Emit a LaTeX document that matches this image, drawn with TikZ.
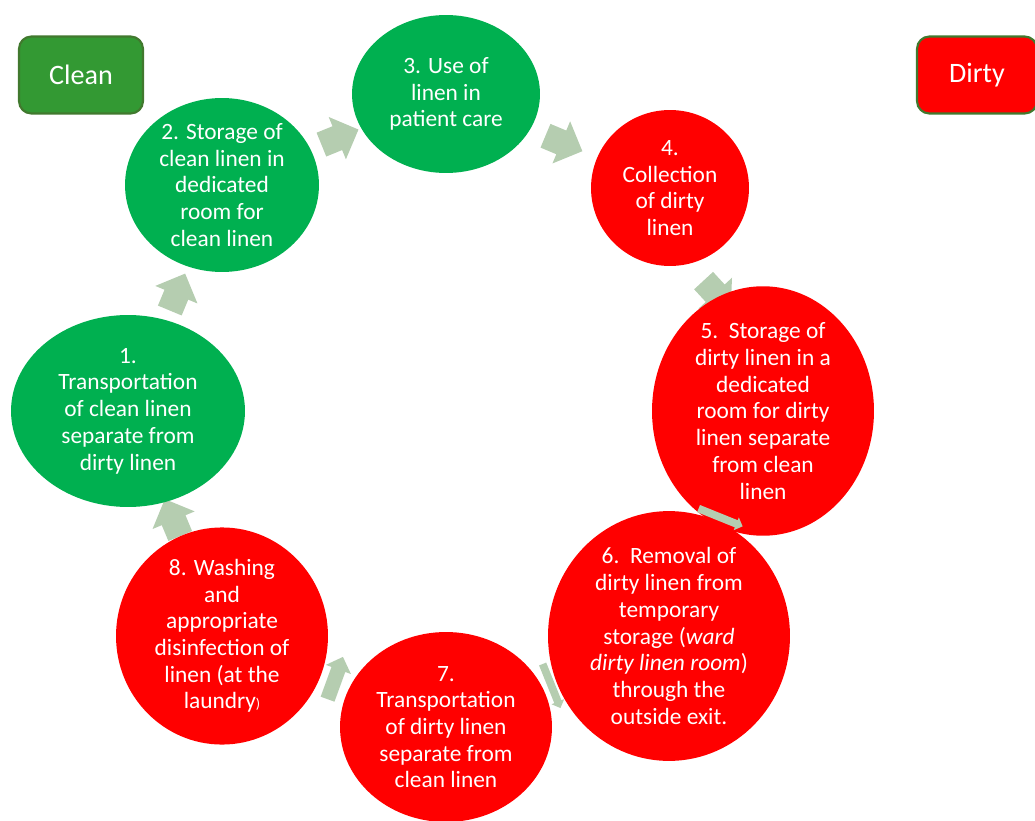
\documentclass[tikz,border=0pt]{standalone}
\usepackage{fontspec}
\setmainfont{Carlito}
\usepackage{xcolor}
\usepackage{tikz}
\usetikzlibrary{shapes.geometric, shapes.arrows, calc, backgrounds}

\definecolor{cleangreen}{HTML}{00B050}
\definecolor{dirtyred}{HTML}{FF0000}
\definecolor{legendgreen}{HTML}{339933}
\definecolor{legendedge}{HTML}{41792E}
\definecolor{flowgreen}{HTML}{B5CDB0}

\begin{document}
\begin{tikzpicture}[
    x=0.02cm, y=-0.02cm,
    stage/.style={ellipse, text=white, align=center, inner sep=0pt, font=\fontsize{13.3}{15.2}\selectfont},
    cleanstage/.style={stage, fill=cleangreen},
    dirtystage/.style={stage, fill=dirtyred},
    legend/.style={rectangle, rounded corners=7pt, draw=legendedge, line width=1.2pt, text=white, minimum height=1.54cm, font=\fontsize{16}{19}\selectfont},
    flow/.style={single arrow, fill=flowgreen, draw=none, inner xsep=0.1cm, inner ysep=0.25cm, single arrow head extend=0.2cm, minimum height=0.8cm},
    thinflow/.style={flow, inner ysep=0.07cm, single arrow head extend=0.06cm, minimum height=0.95cm},
    midflow/.style={flow, inner ysep=0.14cm, single arrow head extend=0.12cm, minimum height=0.9cm}
]
\useasboundingbox (0,0) rectangle (1035,821);

% Legend
\node [legend, fill=legendgreen, minimum width=2.48cm] (clean) at (81,75) {Clean};
\node [legend, fill=dirtyred, minimum width=2.4cm] (dirty) at (977,75) {Dirty};

% Cycle stages
\node [cleanstage, minimum width=4.68cm, minimum height=3.84cm] (c1) at (128,411) {1.\\Transportation\\of clean linen\\separate from\\dirty linen};
\node [cleanstage, minimum width=3.88cm, minimum height=3.36cm] (c2) at (222,185) {2. Storage of\\clean linen in\\dedicated\\room for\\clean linen};
\node [cleanstage, minimum width=3.76cm, minimum height=3.16cm] (c3) at (446,94) {3. Use of\\linen in\\patient care};
\node [dirtystage, minimum width=3.16cm, minimum height=3.12cm] (c4) at (670,188) {4.\\Collection\\of dirty\\linen};
\node [dirtystage, minimum width=4.44cm, minimum height=4.14cm] (c5) at (763,411) {5.\ \ Storage of\\dirty linen in a\\dedicated\\room for dirty\\linen separate\\from clean\\linen};
\node [dirtystage, minimum width=4.84cm, minimum height=4.64cm] (c6) at (669,636) {6.\ \ Removal of\\dirty linen from\\temporary\\storage (\textit{ward}\\\textit{dirty linen room})\\through the\\outside exit.};
\node [dirtystage, minimum width=4.24cm, minimum height=3.8cm] (c7) at (446,727) {7.\\Transportation\\of dirty linen\\separate from\\clean linen};
\node [dirtystage, minimum width=4.24cm, minimum height=3.64cm] (c8) at (222,636) {8. Washing\\and\\appropriate\\disinfection of\\linen (at the\\laundry{\footnotesize)}};

% Flow arrows (behind the circles)
\begin{scope}[on background layer]
\path let \p1=($(c3)-(c2)$), \n1={atan2(\y1,\x1)} in node [flow, rotate=\n1] (a23) at ($(c2)!0.5!(c3)$) {};
\path let \p1=($(c4)-(c3)$), \n1={atan2(\y1,\x1)} in node [flow, rotate=\n1] (a34) at ($(c3)!0.5!(c4)$) {};
\path let \p1=($(c5)-(c4)$), \n1={atan2(\y1,\x1)} in node [flow, rotate=\n1+20] (a45) at ($(c4)!0.46!(c5)$) {};
% squeezed ones in the narrow gaps
\node [thinflow, rotate=-68] (a67) at ($(c6)!0.53!(c7)$) {};
\node [midflow, rotate=70] (a78) at ($(c7)!0.5!(c8)$) {};
\path let \p1=($(c1)-(c8)$), \n1={atan2(\y1,\x1)} in node [flow, rotate=\n1] (a81) at ($(c8)!0.5!(c1)$) {};
\path let \p1=($(c2)-(c1)$), \n1={atan2(\y1,\x1)} in node [flow, rotate=\n1] (a12) at ($(c1)!0.5!(c2)$) {};
\end{scope}
% where 5 and 6 touch
\node [thinflow, rotate=-22] (a56) at ($(c5)!0.47!(c6)$) {};

\end{tikzpicture}
\end{document}
